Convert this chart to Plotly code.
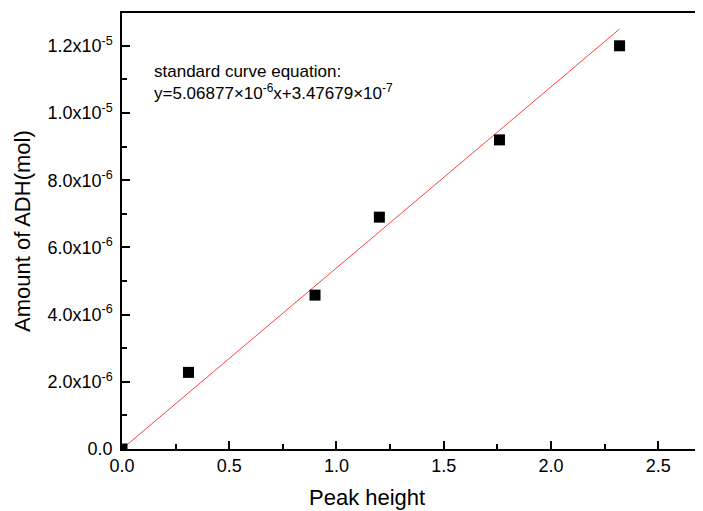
import plotly.graph_objects as go

# Data
peak_height = [0.0, 0.31, 0.90, 1.20, 1.76, 2.32]
amount_adh = [0.0, 2.28e-6, 4.58e-6, 6.9e-6, 9.2e-6, 1.2e-5]

fit_x = [0.0, 2.32]
fit_y = [0.0, 1.25e-5]

x_tickvals = [0.0, 0.5, 1.0, 1.5, 2.0, 2.5]
x_ticktext = ["0.0", "0.5", "1.0", "1.5", "2.0", "2.5"]
y_tickvals = [0.0, 2e-6, 4e-6, 6e-6, 8e-6, 1e-5, 1.2e-5]
y_ticktext = ["0.0", "2.0x10<sup>-6</sup>", "4.0x10<sup>-6</sup>", "6.0x10<sup>-6</sup>",
              "8.0x10<sup>-6</sup>", "1.0x10<sup>-5</sup>", "1.2x10<sup>-5</sup>"]

FONT = "Liberation Sans, Arial, sans-serif"

fig = go.Figure()
fig.add_trace(go.Scatter(x=fit_x, y=fit_y, mode="lines",
                         line=dict(color="#ff4040", width=1), showlegend=False))
fig.add_trace(go.Scatter(x=peak_height, y=amount_adh, mode="markers",
                         marker=dict(symbol="square", size=11, color="black"),
                         showlegend=False))

OFF = 8  # page body margin
W, H = 703 - OFF, 511 - OFF
L, R, T = 122 - OFF, 0, 13 - OFF
B = H - (449 - OFF)
pw = W - L - R
ph = H - T - B


def px(xp):
    return (xp - OFF - L) / pw


def py(yp):
    return 1 - (yp - OFF - T) / ph


fig.update_layout(
    width=W, height=H,
    margin=dict(l=L, r=R, t=T, b=B, autoexpand=False),
    plot_bgcolor="white", paper_bgcolor="white",
    font=dict(family=FONT, size=18, color="black"),
    xaxis=dict(range=[0, 2.709], showgrid=False, zeroline=False,
               showline=True, linecolor="black", linewidth=1.5, mirror=True,
               ticks="inside", ticklen=8, tickwidth=1.5, tickcolor="black",
               tickvals=x_tickvals, ticktext=x_ticktext,
               minor=dict(ticks="inside", ticklen=5, tickwidth=1.5, tickcolor="black", dtick=0.25, tick0=0),
               tickfont=dict(size=18)),
    yaxis=dict(range=[0, 1.2976e-5], showgrid=False, zeroline=False,
               showline=True, linecolor="black", linewidth=1.5, mirror=False,
               ticks="inside", ticklen=8, tickwidth=1.5, tickcolor="black",
               tickvals=y_tickvals, ticktext=y_ticktext,
               minor=dict(ticks="inside", ticklen=5, tickwidth=1.5, tickcolor="black", dtick=1e-6, tick0=0),
               tickfont=dict(size=18), ticklabelstandoff=4),
    annotations=[
        dict(text="standard curve equation:<br>y=5.06877×10<sup>-6</sup>x+3.47679×10<sup>-7</sup>",
             xref="paper", yref="paper", x=px(152), y=py(60),
             xanchor="left", yanchor="top", align="left", showarrow=False,
             font=dict(size=17)),
        dict(text="Peak height", xref="paper", yref="paper",
             x=px(367), y=py(497), xanchor="center", yanchor="middle",
             showarrow=False, font=dict(size=22)),
        dict(text="Amount of ADH(mol)", xref="paper", yref="paper",
             x=px(22), y=py(231), xanchor="center", yanchor="middle", textangle=-90,
             showarrow=False, font=dict(size=22)),
    ],
)

fig.write_html("out.html")
